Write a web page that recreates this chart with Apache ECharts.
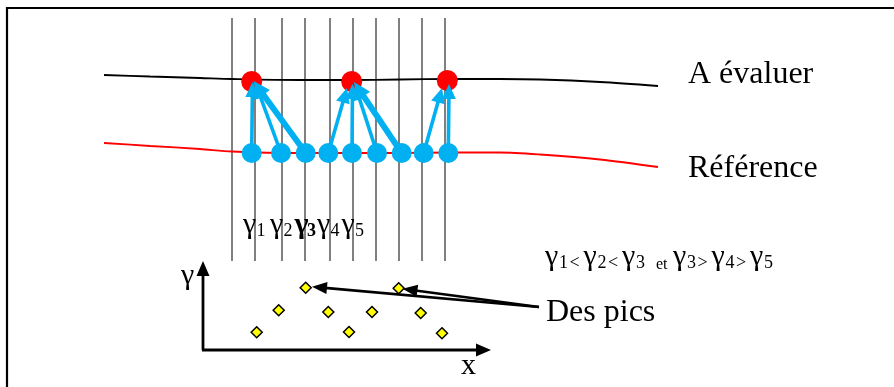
<!DOCTYPE html>
<html><head><meta charset="utf-8">
<script src="https://cdn.jsdelivr.net/npm/echarts@6/dist/echarts.min.js"></script>
<style>html,body{margin:0;padding:0;background:#fff}#c{width:894px;height:387px}</style>
</head><body><div id="c"></div>
<script>
// ---- diagram data (diagram units = page pixels) ----
const W = 894, H = 387;
const frameCorner = [7, 8];
const gridLinesX = [232, 255, 282, 305, 330, 353, 376, 399, 422, 445];
const gridLineSpan = [18, 261];
const evalCurve = [[104,75],[150,76.5],[200,78],[232,79],[300,80],[350,80],[400,79.5],[450,79],[500,79],[540,79.5],[600,82],[658,86]];
const refCurve  = [[104,143],[150,146],[200,149],[232,151.5],[300,153],[350,153],[400,153],[450,152.5],[500,152.5],[540,154.5],[600,159.5],[658,167]];
const peaks   = [[251.7,81.5],[351.7,81.5],[447.3,80.5]];
const samples = [[251.7,153],[281,153],[305.7,153],[328.3,153],[352,153],[377,153],[401.7,153],[423.7,153],[448.3,153]];
// [fromX, fromY, tipX, tipY, thick]
const matchArrows = [
  [251.7,153,252.5,82,0],[281,153,255.5,83.5,0],[305.7,153,253.5,81,1],
  [328.3,153,347,88,0],[352,153,352.5,84,0],[377,153,355,85,0],[401.7,153,354,82,1],
  [423.7,153,442,88,0],[448.3,153,449,84,0]
];
const gammaPoints = [[256.7,332.3],[278.7,310.3],[305.7,287.7],[328.3,312],[349,332],[372,312],[398.7,288.3],[420.7,313],[442,333.3]];
const axisArrows  = [[203,350,203,261],[202,350,491,350]];
const peakPointers = [[539,307,312,286.7],[539,307,402.5,288.7]];
const labelNames   = ['A évaluer','Référence','Des pics','γ','x'];
const labelBaselines = [[688,84],[688,178],[546,322],[181,285],[461,375]];
const gammaLine1 = '{g|γ}{d|1}{sp| }{g|γ}{d|2}{gb|γ}{db|3}{g|γ}{d|4}{g|γ}{d|5}';
const gammaLine2 = '{g2|γ}{d2|1}{op|<}{g2|γ}{d2|2}{op|<}{g2|γ}{d2|3}{sp2| }{et|et}{g2|γ}{d2|3}{op|>}{g2|γ}{d2|4}{op|>}{g2|γ}{d2|5}';
const gammaLineAnchors = [[243,237],[545,269]];

// ---- rendering ----
const SERIF = '"Liberation Serif","Times New Roman",serif';
const BLUE = '#00B0F0';
function arrow(api, x1, y1, x2, y2, lw, hl, hw, color) {
  const p1 = api.coord([x1, y1]), p2 = api.coord([x2, y2]);
  const dx = p2[0]-p1[0], dy = p2[1]-p1[1], len = Math.hypot(dx, dy);
  const ux = dx/len, uy = dy/len, nx = -uy, ny = ux;
  const bx = p2[0]-ux*hl, by = p2[1]-uy*hl;
  return {type:'group', children:[
    {type:'line', shape:{x1:p1[0], y1:p1[1], x2:bx+ux*2, y2:by+uy*2}, style:{stroke:color, lineWidth:lw}},
    {type:'polygon', shape:{points:[[p2[0],p2[1]],[bx+nx*hw/2,by+ny*hw/2],[bx-nx*hw/2,by-ny*hw/2]]}, style:{fill:color}}
  ]};
}
const tok = (fs, w, extra) => Object.assign({fontSize:fs, lineHeight:fs, width:w, verticalAlign:'bottom', fontFamily:SERIF, color:'#000'}, extra||{});
const GF = 30;
const richStyles = {
  g: tok(GF, 13.5), d: tok(18, 11), sp: tok(18, 2.4),
  gb: tok(GF, 12.5, {fontWeight:'bold'}), db: tok(18, 10, {fontWeight:'bold'}),
  g2: tok(GF, 14), d2: tok(18, 10.5), op: tok(18, 14), sp2: tok(16, 9.5), et: tok(16, 17)
};
const labelSizes = [32, 32, 32, 30, 30];

const chart = echarts.init(document.getElementById('c'), null, {renderer:'canvas'});
chart.setOption({
  animation: false,
  grid: {left:0, right:0, top:0, bottom:0},
  xAxis: {type:'value', min:0, max:W, show:false},
  yAxis: {type:'value', min:0, max:H, inverse:true, show:false},
  series: [
    { type:'custom', z:1, silent:true, data:[frameCorner],
      renderItem:(p, api) => { const a = api.coord([api.value(0), api.value(1)]);
        return {type:'rect', shape:{x:a[0], y:a[1], width:W+20, height:H+20}, style:{fill:null, stroke:'#000', lineWidth:2.2}}; } },
    { type:'custom', z:2, silent:true, data:gridLinesX.map(x => [x]),
      renderItem:(p, api) => { const a = api.coord([api.value(0), gridLineSpan[0]]), b = api.coord([api.value(0), gridLineSpan[1]]);
        return {type:'line', shape:{x1:a[0], y1:a[1], x2:b[0], y2:b[1]}, style:{stroke:'#808080', lineWidth:2}}; } },
    { type:'line', z:3, data:evalCurve, smooth:0.3, showSymbol:false, lineStyle:{color:'#000', width:1.8} },
    { type:'line', z:3, data:refCurve, smooth:0.3, showSymbol:false, lineStyle:{color:'#ff0000', width:1.8} },
    { type:'scatter', z:4, data:peaks, symbolSize:21, itemStyle:{color:'#ff0000', opacity:1} },
    { type:'custom', z:5, silent:true, data:matchArrows,
      renderItem:(p, api) => { const t = api.value(4);
        return arrow(api, api.value(0), api.value(1), api.value(2), api.value(3), t ? 6 : 3.6, t ? 17 : 15, t ? 16 : 14, BLUE); } },
    { type:'scatter', z:6, data:samples, symbolSize:20, itemStyle:{color:BLUE, opacity:1} },
    { type:'scatter', z:6, data:gammaPoints, symbol:'diamond', symbolSize:11, itemStyle:{color:'#ffff00', borderColor:'#000', borderWidth:1.5, opacity:1} },
    { type:'custom', z:7, silent:true, data:axisArrows,
      renderItem:(p, api) => arrow(api, api.value(0), api.value(1), api.value(2), api.value(3), 2.8, 15, 13, '#000') },
    { type:'custom', z:7, silent:true, data:peakPointers,
      renderItem:(p, api) => arrow(api, api.value(0), api.value(1), api.value(2), api.value(3), 2.6, 15, 12, '#000') },
    { type:'custom', z:8, silent:true, data:labelBaselines.map((b, i) => [b[0], b[1], i]),
      renderItem:(p, api) => { const i = api.value(2), fs = labelSizes[i];
        const a = api.coord([api.value(0), api.value(1)]);
        return {type:'text', x:a[0], y:a[1] - 0.305*fs, style:{text:labelNames[i], fill:'#000', font:fs + 'px ' + SERIF, align:'left', verticalAlign:'middle'}}; } },
    { type:'custom', z:8, silent:true, data:gammaLineAnchors.map((b, i) => [b[0], b[1], i]),
      renderItem:(p, api) => { const i = api.value(2);
        const a = api.coord([api.value(0), api.value(1)]);
        return {type:'text', x:a[0], y:a[1] + 3.5, style:{text:i === 0 ? gammaLine1 : gammaLine2, rich:richStyles, align:'left', verticalAlign:'bottom', fill:'#000', font:GF + 'px ' + SERIF}}; } }
  ]
});
</script>
</body></html>
